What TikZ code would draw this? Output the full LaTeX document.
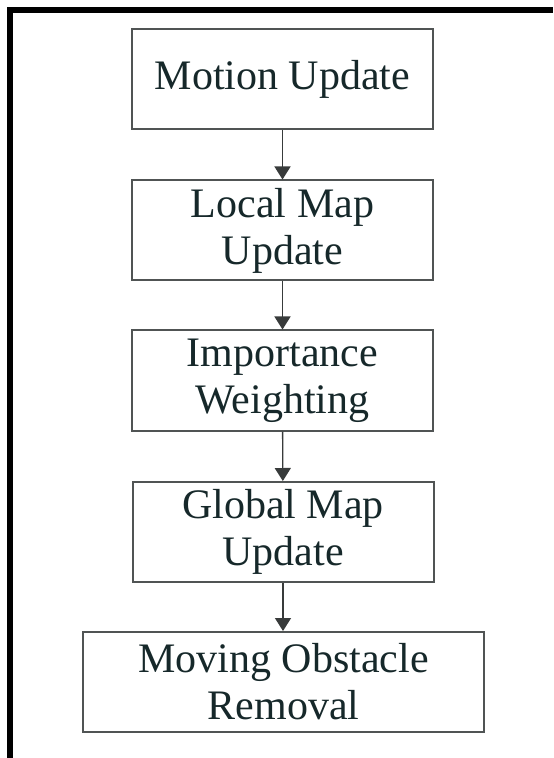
\documentclass[tikz,border=0pt]{standalone}
\usepackage{fontspec}
\setmainfont{Liberation Serif}
\usetikzlibrary{arrows.meta}
\definecolor{txt}{RGB}{22,40,42}
\definecolor{edge}{RGB}{80,84,84}
\tikzset{
  stepbox/.style={draw=edge, line width=1pt, fill=white, inner sep=0pt,
    minimum width=150.5pt, minimum height=50pt, align=center, text=txt,
    font=\fontsize{21}{23.5}\selectfont},
  widebox/.style={stepbox, minimum width=200.5pt},
  flowarrow/.style={draw=edge!70!black, line width=0.7pt,
    -{Triangle[length=6.5pt,width=8pt]}}
}
\begin{document}
\begin{tikzpicture}[x=0.5pt,y=-0.5pt]
\useasboundingbox (0,0) rectangle (553,758);
\fill[white] (0,0) rectangle (553,758);
\draw[line width=3pt, line join=miter] (10,758) -- (10,10) -- (553,10);
\node[stepbox] (b1) at (282.5,79) {Motion Update};
\node[stepbox] (b2) at (282.5,230.5) {Local Map\\Update};
\node[stepbox] (b3) at (282.5,380.5) {Importance\\Weighting};
\node[stepbox] (b4) at (283,532) {Global Map\\Update};
\node[widebox] (b5) at (283.5,682) {Moving Obstacle\\Removal};
\draw[flowarrow] (b1) -- (b2);
\draw[flowarrow] (b2) -- (b3);
\draw[flowarrow] (b3) -- (b4);
\draw[flowarrow] (b4.south) -- (b4.south |- b5.north);
\end{tikzpicture}
\end{document}
